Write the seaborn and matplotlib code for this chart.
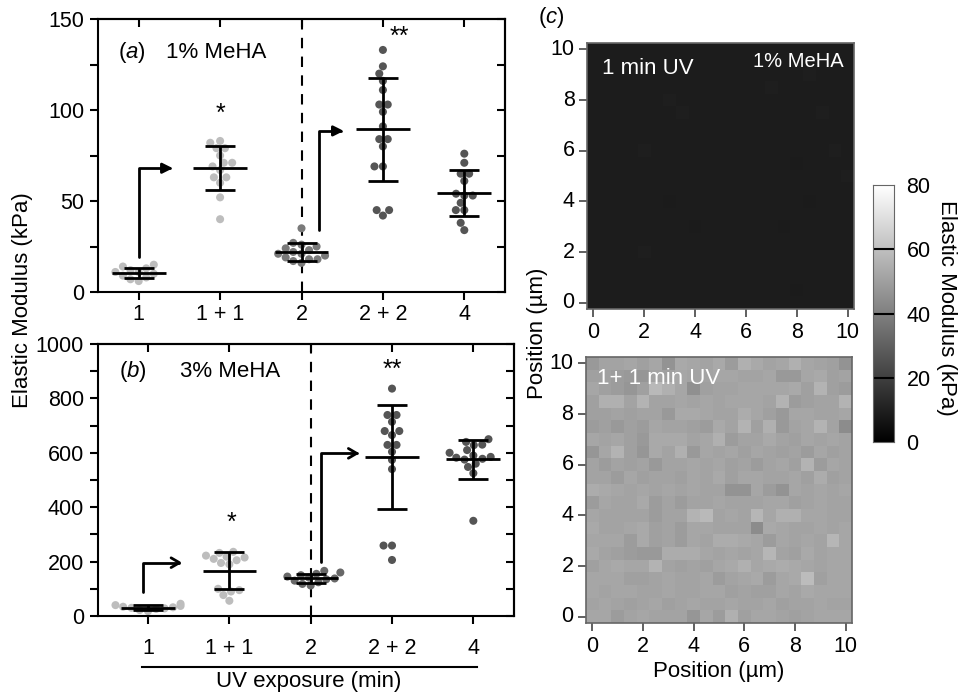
import numpy as np
import pandas as pd
import matplotlib
matplotlib.use("Agg")
import matplotlib.pyplot as plt
import seaborn as sns

plt.rcParams["font.family"] = ["Liberation Sans", "DejaVu Sans"]
plt.rcParams["mathtext.fontset"] = "custom"
plt.rcParams["mathtext.rm"] = "Liberation Sans"
plt.rcParams["mathtext.it"] = "Liberation Sans:italic"

groups = ["1", "1 + 1", "2", "2 + 2", "4"]

# (a) 1% MeHA, elastic modulus in kPa
a_1 = [6, 7, 8, 9, 10, 11, 11, 12, 13, 14, 15]
a_1p1 = [83, 82, 79, 79, 75, 71, 71, 69, 67, 63, 63, 60, 52, 40]
a_2 = [35, 27, 26, 25, 24, 23, 22, 21, 21, 20, 19, 18, 18, 17, 16]
a_2p2 = [133, 124, 120, 116, 111, 103, 103, 99, 91, 84, 84, 80, 69, 69, 45, 45, 42]
a_4 = [76, 71, 65, 65, 61, 54, 53, 53, 49, 45, 45, 38, 34]

# (b) 3% MeHA
b_1 = [18, 22, 26, 28, 30, 32, 34, 37, 40, 45]
b_1p1 = [236, 232, 222, 218, 215, 210, 205, 195, 190, 100, 95, 90, 77, 56]
b_2 = [112, 118, 124, 130, 135, 138, 141, 145, 150, 155, 160, 166]
b_2p2 = [836, 739, 739, 714, 680, 680, 665, 629, 629, 604, 574, 540, 259, 259, 206]
b_4 = [650, 640, 630, 628, 610, 600, 590, 585, 582, 578, 575, 560, 548, 525, 350]

# (c) AFM maps, 21 x 21 points, 0.5 um step, top row = 10 um
map_1min = """
9 9 9 9 9 9 9 9 9 9 9 9 9 9 9 9 9 9 9 9 9
9 9 9 9 9 9 9 9 9 9 9 9 9 9 9 9 9 9 9 9 9
9 9 9 9 9 9 9 9 9 9 9 9 9 9 9 9 9 9.4 9 9 9
9 9 9 9 9 9 9 9 9 9 9 9 9 9 9.4 9 9 9 9 9 9
9 9 9 9 9 9 9.4 9 9 9 9 9 9 9 9 9 9 9 9 9 9
9 9 9 9 9 9 9 9.4 9 9 9 9 9 9 9 9 9 9 9.4 9 9
9 9 9 9 9 9 9 9 9 9 9 9 9 9 9 9 9 9 9 9 9
9 9 9 9 9 9 9 9 9 9 9 9 9 9 9 9 9 9 9 9 9
9 9 9 9 9.4 9 9 9 9 9 9 9 9 9 9 9 9 9 9 9.4 9
9 9 9 9 9 9 9 9 9 9 9 9 9 9 9 9 8.6 9 9 9 9
9 9 9 9 9 9 9 9 9 9 9 9 9 9 9 9 9 9 9 9 9.4
9 9 9 9 9 9 9 9 9 9 9 9 9 9 9 9 9 9 9 9 9
9 9 9 9 9 9 8.6 9 9 9 9 9 9 9 9 9 9 8.6 9 9 9
9 9 9 9 9 9 9 9 9 9 9 9 9 9 9 9 9 9 9 9 9
9 9 9 9 9 9 9 9 8.6 9 9 9 9 9 9 8.6 9 9 9 9 9
9 9 9 9 9 9 9 9 9 9 9 9 9 9 9 9 9 9 9 9 9
9 9 9 9 9.4 9 9 9 9 9 9 9 9 9 9 9 9 9 9 9 9
9 9 9 9 9 9 9 9 9 9 9 9 9 9 9 9 9 9 9 9 9
9 9 9 9 9 9 9 9 9 9 9 9 9 9 9 9 9 9 9 9 9
9 9 9 9 9 9 9 9 9 9 9 9 9 9 9 9 8.6 9 9 9 9
9 9 9 9 9 9 9 9 9 9 9 9 9 9 9 9 9 9 9 9 9
"""
map_1p1min = """
48 51 51 52 50 52 46 53 52 51 53 49 55 53 51 52 55 52 51 50 46
50 50 49 48 47 51 50 52 51 51 52 52 51 51 52 48 48 52 53 50 51
52 50 49 47 50 58 55 52 45 50 51 51 52 52 52 52 53 50 56 50 49
50 55 55 51 56 51 51 52 51 52 51 52 52 52 51 56 49 50 51 51 56
50 50 51 50 51 51 48 53 53 52 51 51 54 52 50 48 52 52 51 51 52
49 50 48 50 49 52 51 51 50 49 53 51 56 50 55 48 51 52 56 51 44
52 51 52 50 48 53 53 53 51 52 55 49 51 51 53 51 50 52 51 52 51
47 52 56 50 47 53 51 55 48 52 51 52 50 52 51 50 51 49 52 50 51
51 49 51 50 51 48 51 51 52 51 52 50 51 49 51 52 50 56 49 52 51
51 51 49 52 50 51 51 50 52 51 53 50 52 52 51 51 52 50 54 50 51
54 53 52 51 52 51 52 51 52 51 51 46 46 52 49 46 52 51 52 51 52
49 52 51 51 53 49 51 49 51 51 52 51 51 51 52 52 50 51 52 51 51
52 51 51 51 51 49 51 51 56 58 51 52 51 57 52 55 55 52 52 51 51
53 51 51 52 53 50 51 49 52 52 51 51 51 44 53 52 51 51 52 51 52
52 52 52 49 53 50 51 49 52 51 54 54 53 52 49 52 51 52 51 57 52
53 51 50 49 48 48 54 54 54 52 51 52 51 52 57 51 50 53 51 52 52
50 52 53 52 52 56 51 50 51 50 52 53 55 52 53 54 53 52 51 52 52
52 52 52 50 50 51 52 51 51 52 49 51 52 53 49 52 53 59 50 52 52
52 51 52 52 51 51 52 51 51 52 52 50 51 50 50 52 51 53 52 52 52
51 52 51 50 51 52 50 51 52 51 51 52 51 51 52 50 51 51 52 51 51
52 52 49 51 52 51 51 51 47 52 49 55 50 52 52 51 50 51 52 52 52
"""
positions = [0, 2, 4, 6, 8, 10]
cbar_ticks = [0, 20, 40, 60, 80]

light, mid, dark = "#bdbdbd", "#7a7a7a", "#555555"
palette_a = {"1": light, "1 + 1": light, "2": mid, "2 + 2": dark, "4": dark}
palette_b = {"1": light, "1 + 1": light, "2": "#686868", "2 + 2": dark, "4": dark}

W, H = 964, 693
fig = plt.figure(figsize=(W / 100, H / 100), dpi=100)


def box(l, t, r, b):
    return [l / W, 1 - b / H, (r - l) / W, (b - t) / H]


def to_long(vals):
    rows = []
    for g, v in zip(groups, vals):
        rows += [(g, x) for x in v]
    return pd.DataFrame(rows, columns=["group", "value"])


def scatter_panel(ax, df, palette, ymax, major, minor, xpad):
    ax.axvline(2, color="black", lw=1.5, ls=(0, (5, 4)), zorder=1)
    sns.swarmplot(data=df, x="group", y="value", hue="group", order=groups,
                  palette=palette, size=5.8, ax=ax, legend=False, zorder=2)
    stats = df.groupby("group", sort=False)["value"].agg(["mean", "std"]).reindex(groups)
    xs = np.arange(len(groups))
    ax.errorbar(xs, stats["mean"], yerr=stats["std"], fmt="none", ecolor="black",
                elinewidth=2, capsize=10.5, capthick=2, zorder=3)
    ax.hlines(stats["mean"], xs - 0.33, xs + 0.33, color="black", lw=2, zorder=3)
    ax.set_ylim(0, ymax)
    ax.set_yticks(np.arange(0, ymax + 1, major))
    ax.set_yticks(np.arange(0, ymax + 1, minor), minor=True)
    ax.set_xlabel("")
    ax.set_ylabel("")
    ax.tick_params(axis="both", which="both", direction="out", length=6, width=1.5,
                   labelsize=15.5, pad=4)
    ax.tick_params(axis="x", pad=xpad)
    for s in ax.spines.values():
        s.set_linewidth(1.5)
    top = ax.secondary_xaxis("top")
    top.set_xticks(xs, labels=[])
    top.tick_params(direction="in", length=6, width=1.5)
    right = ax.secondary_yaxis("right")
    right.set_yticks(np.arange(0, ymax + 1, minor), labels=[])
    right.tick_params(direction="in", length=6, width=1.5)
    for sec in (top, right):
        for s in sec.spines.values():
            s.set_linewidth(1.5)


def elbow(ax, x0, y0, x1, y1, style):
    ax.annotate("", xy=(x1, y1), xytext=(x0, y0),
                arrowprops=dict(arrowstyle=style, lw=2, color="black",
                                shrinkA=0, shrinkB=0,
                                connectionstyle="angle,angleA=90,angleB=0,rad=0"),
                zorder=4)


# panel (a)
ax_a = fig.add_axes(box(98, 19, 505, 292))
scatter_panel(ax_a, to_long([a_1, a_1p1, a_2, a_2p2, a_4]), palette_a, 150, 50, 25, 3)
ax_a.set_xlim(-0.5, 4.5)
elbow(ax_a, 0, 19, 0.42, 68, "-|>,head_length=0.6,head_width=0.3")
elbow(ax_a, 2.21, 34, 2.52, 88.5, "-|>,head_length=0.6,head_width=0.3")
ax_a.text(1, 98, "*", ha="center", va="center", fontsize=18)
ax_a.text(3.2, 140, "**", ha="center", va="center", fontsize=18)
ax_a.text(-0.26, 131.5, "($\\mathit{a}$)", ha="left", va="center", fontsize=16)
ax_a.text(0.34, 131.5, "1% MeHA", ha="left", va="center", fontsize=16)

# panel (b)
ax_b = fig.add_axes(box(98, 344, 514, 616))
scatter_panel(ax_b, to_long([b_1, b_1p1, b_2, b_2p2, b_4]), palette_b, 1000, 200, 100, 10)
ax_b.set_xlim(-0.615, 4.5)
elbow(ax_b, -0.06, 89, 0.42, 196, "->,head_length=0.6,head_width=0.35")
elbow(ax_b, 2.13, 200, 2.6, 598, "->,head_length=0.6,head_width=0.35")
ax_b.text(1.03, 341, "*", ha="center", va="center", fontsize=18)
ax_b.text(3.0, 904, "**", ha="center", va="center", fontsize=18)
ax_b.text(-0.357, 898, "($\\mathit{b}$)", ha="left", va="center", fontsize=16)
ax_b.text(0.39, 898, "3% MeHA", ha="left", va="center", fontsize=16)

fig.text(23 / W, 1 - 300 / H, "Elastic Modulus (kPa)", rotation=90,
         ha="center", va="center", fontsize=16)
fig.add_artist(plt.Line2D([142 / W, 477 / W], [1 - 667 / H, 1 - 667 / H],
                          color="black", lw=1.5))
fig.text(309 / W, 1 - 681 / H, "UV exposure (min)", ha="center", va="center",
         fontsize=16)

# panel (c) heatmaps
grid_top = np.array(map_1min.split(), dtype=float).reshape(21, 21)
grid_bot = np.array(map_1p1min.split(), dtype=float).reshape(21, 21)

ax_t = fig.add_axes(box(587, 43, 854, 309))
ax_m = fig.add_axes(box(586, 357, 852, 623))
cax = fig.add_axes(box(873, 185, 894, 442))

sns.heatmap(grid_top, ax=ax_t, cmap="gray", vmin=0, vmax=80, cbar=False,
            square=False)
sns.heatmap(grid_bot, ax=ax_m, cmap="gray", vmin=0, vmax=80, cbar_ax=cax)

tick_xy = [2 * p + 0.5 for p in positions]
tick_yy = [20 - 2 * p + 0.5 for p in positions]
for ax in (ax_t, ax_m):
    ax.set_xticks(tick_xy, labels=[str(p) for p in positions], rotation=0)
    ax.set_yticks(tick_yy, labels=[str(p) for p in positions], rotation=0)
    ax.set_xlim(0, 21)
    ax.set_ylim(21, 0)
    ax.tick_params(direction="out", length=6, width=1.2, color="#444444",
                   labelsize=15.5, pad=3)
    for s in ax.spines.values():
        s.set_visible(True)
        s.set_color("#666666")
        s.set_linewidth(1.2)

ax_t.text(0.055, 0.905, "1 min UV", transform=ax_t.transAxes, color="white",
          ha="left", va="center", fontsize=16)
ax_t.text(0.962, 0.93, "1% MeHA", transform=ax_t.transAxes, color="white",
          ha="right", va="center", fontsize=14.5)
ax_m.text(0.04, 0.92, "1+ 1 min UV", transform=ax_m.transAxes, color="white",
          ha="left", va="center", fontsize=16)

cax.set_yticks(cbar_ticks)
cax.tick_params(length=0, labelsize=15.5, pad=9)
for v in cbar_ticks[1:-1]:
    cax.axhline(v, color="black", lw=1.5)
for s in cax.spines.values():
    s.set_visible(True)
    s.set_color("#666666")

fig.text(551 / W, 1 - 18 / H, "($\\mathit{c}$)", ha="center", va="center",
         fontsize=16)
fig.text(538 / W, 1 - 333 / H, "Position (µm)", rotation=90, ha="center",
         va="center", fontsize=16)
fig.text(719 / W, 1 - 672 / H, "Position (µm)", ha="center", va="center",
         fontsize=16)
fig.text(946 / W, 1 - 308 / H, "Elastic Modulus (kPa)", rotation=270,
         ha="center", va="center", fontsize=16)

fig.savefig("out.png", dpi=100)
